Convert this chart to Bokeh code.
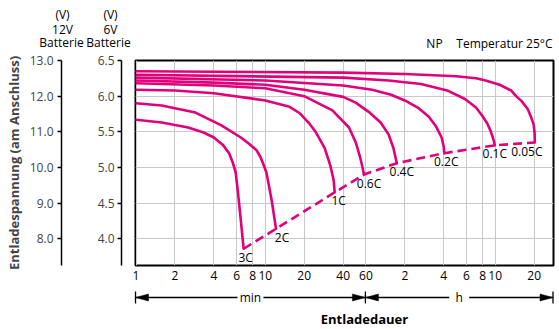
import math
from bokeh.plotting import figure
from bokeh.layouts import column
from bokeh.models import (Range1d, LinearAxis, FixedTicker, NumeralTickFormatter,
                          ColumnDataSource, Grid)
from bokeh.core.properties import value
from bokeh.embed import file_html
from bokeh.resources import INLINE

FONT = "Open Sans"
PINK = "#E2007A"
GRID = "#c8c8c8"

# ---- axes (time in minutes, voltage in 6V-battery volts) ----
X_TICKS = [1, 2, 4, 6, 8, 10, 20, 40, 60, 120, 240, 360, 480, 600, 1200]
X_LABELS = ["1", "2", "4", "6", "8", "10", "20", "40", "60", "2", "4", "6", "8", "10", "20"]
Y6_TICKS = [4.0, 4.5, 5.0, 5.5, 6.0, 6.5]
Y12_TICKS = [8.0, 9.0, 10.0, 11.0, 12.0, 13.0]
GRID_Y = [4.0, 4.5, 5.0, 5.5, 6.0]

# ---- discharge curves (minutes, volts of 6V battery) ----
t_3C = [1, 1.58, 2.53, 3.33, 4, 4.73, 5.25, 5.6, 5.9, 6.12, 6.35, 6.8]
v_3C = [5.67, 5.63, 5.56, 5.49, 5.42, 5.31, 5.20, 5.07, 4.93, 4.68, 4.40, 3.86]

t_2C = [1, 1.58, 2.88, 4.58, 6.47, 7.4, 8.56, 9.15, 9.6, 10.2, 10.6, 11.2, 12.1]
v_2C = [5.90, 5.87, 5.77, 5.59, 5.42, 5.34, 5.24, 5.15, 5.06, 4.93, 4.77, 4.54, 4.14]

t_1C = [1, 2, 4, 10, 15.4, 18.5, 21.6, 24.7, 28.8, 31.8, 33.8, 34.4]
v_1C = [6.09, 6.08, 6.04, 5.94, 5.85, 5.76, 5.63, 5.49, 5.27, 5.03, 4.82, 4.65]

t_06C = [1, 4, 10, 20, 33, 44.4, 50.1, 54, 56.3, 58]
v_06C = [6.18, 6.15, 6.11, 6.00, 5.80, 5.56, 5.35, 5.15, 5.01, 4.90]

t_04C = [1, 4, 10, 20, 40, 50, 63, 78, 90, 98, 104]
v_04C = [6.22, 6.19, 6.16, 6.09, 5.99, 5.91, 5.78, 5.63, 5.46, 5.27, 5.06]

t_02C = [1, 10, 40, 67, 94, 120, 151, 184, 210, 231, 240, 242]
v_02C = [6.26, 6.22, 6.15, 6.09, 6.02, 5.94, 5.84, 5.71, 5.57, 5.42, 5.29, 5.20]

t_01C = [1, 40, 90, 160, 255, 350, 426, 470, 520, 556, 575, 588, 595]
v_01C = [6.30, 6.26, 6.22, 6.17, 6.08, 5.96, 5.84, 5.74, 5.62, 5.50, 5.42, 5.36, 5.31]

t_005C = [1, 40, 120, 300, 426, 505, 650, 795, 870, 960, 1070, 1140, 1190, 1210, 1215]
v_005C = [6.35, 6.33, 6.31, 6.28, 6.25, 6.22, 6.16, 6.08, 6.00, 5.93, 5.82, 5.70, 5.60,
          5.48, 5.35]

RATES = ["3C", "2C", "1C", "0.6C", "0.4C", "0.2C", "0.1C", "0.05C"]
CURVES_T = [t_3C, t_2C, t_1C, t_06C, t_04C, t_02C, t_01C, t_005C]
CURVES_V = [v_3C, v_2C, v_1C, v_06C, v_04C, v_02C, v_01C, v_005C]
LABEL_DX = [2, 6, 4, 5, 5, 2, 0, -8]          # horizontal nudge of each rate label (px)

# header texts
HEAD_TEXT = ["(V)", "12V", "Batterie", "(V)", "6V", "Batterie", "NP"]
HEAD_X = [62, 62, 61, 110, 110, 108, 434]
HEAD_Y = [14, 29, 42, 14, 29, 42, 43]

W = 559
FRAME_L, FRAME_R = 135, 553
PPD = 129.3                                   # pixels per decade of the time axis
X_START = 10 ** (-0.5 / PPD)
X_END = 10 ** ((FRAME_R - FRAME_L - 0.5) / PPD)
Y_START, Y_END = 3.625, 6.5


def no_align(fig):
    if "frame_align" in fig.properties():
        fig.frame_align = False


# ---------------- top header strip ----------------
TOP_H = 52
ph = figure(width=W, height=TOP_H, x_range=Range1d(0, W), y_range=Range1d(TOP_H, 0),
            x_axis_location=None, y_axis_location=None, min_border=0,
            output_backend="svg", toolbar_location=None)
no_align(ph)
ph.grid.visible = False
ph.outline_line_color = None
ph.text(x=HEAD_X, y=HEAD_Y, text=HEAD_TEXT, text_align="center", text_baseline="middle",
        text_font=value(FONT), text_font_size="12px", text_color="black")
ph.text(x=[552], y=[43], text=["Temperatur 25°C"], text_align="right", text_baseline="middle",
        text_font=value(FONT), text_font_size="12px", text_color="black")

# ---------------- main chart ----------------
MAIN_TOP = 60 - TOP_H
p = figure(width=W, height=MAIN_TOP + 205 + 22, x_axis_type="log",
           x_range=Range1d(X_START, X_END), y_range=Range1d(Y_START, Y_END),
           y_axis_location=None, output_backend="svg", toolbar_location=None,
           min_border_left=FRAME_L, min_border_right=W - FRAME_R, min_border_top=MAIN_TOP,
           min_border_bottom=22)
p.extra_y_ranges = {"v12": Range1d(2 * Y_START, 2 * Y_END)}
p.outline_line_color = "black"
p.outline_line_width = 2

xa = p.xaxis[0]
xa.ticker = FixedTicker(ticks=X_TICKS, minor_ticks=[])
xa.major_label_overrides = {t: l for t, l in zip(X_TICKS, X_LABELS)}
xa.axis_line_color = None
xa.major_tick_line_color = None
xa.minor_tick_line_color = None
xa.major_tick_out = 0
xa.major_tick_in = 0
xa.major_label_standoff = 5
xa.major_label_text_font = FONT
xa.major_label_text_font_size = "12px"
xa.major_label_text_color = "black"

p.xgrid.ticker = FixedTicker(ticks=X_TICKS, minor_ticks=[])
p.xgrid.grid_line_color = GRID
if len(p.ygrid) == 0:
    p.add_layout(Grid(dimension=1, ticker=FixedTicker(ticks=GRID_Y)), "center")
p.ygrid.ticker = FixedTicker(ticks=GRID_Y)
p.ygrid.grid_line_color = GRID


def spacer(w):
    # an empty axis that only reserves horizontal room
    return LinearAxis(ticker=FixedTicker(ticks=[5.0], minor_ticks=[]), major_tick_out=w,
                      major_tick_in=0, axis_line_color=None, major_tick_line_color=None,
                      minor_tick_line_color=None, minor_tick_out=0,
                      major_label_text_color=None, major_label_text_font_size="1px",
                      major_label_standoff=0)


ax6 = LinearAxis(ticker=FixedTicker(ticks=Y6_TICKS, minor_ticks=[]),
                 formatter=NumeralTickFormatter(format="0.0"),
                 major_tick_out=4, major_tick_in=0, minor_tick_line_color=None,
                 axis_line_width=1.5, major_tick_line_width=1.5, major_label_standoff=3,
                 major_label_text_font=FONT, major_label_text_font_size="12px")
ax12 = LinearAxis(y_range_name="v12", ticker=FixedTicker(ticks=Y12_TICKS, minor_ticks=[]),
                  formatter=NumeralTickFormatter(format="0.0"),
                  major_tick_out=4, major_tick_in=0, minor_tick_line_color=None,
                  axis_line_width=1.5, major_tick_line_width=1.5, major_label_standoff=4,
                  major_label_text_font=FONT, major_label_text_font_size="12px",
                  axis_label="Entladespannung (am Anschluss)", axis_label_standoff=4,
                  axis_label_text_font=FONT, axis_label_text_font_size="13px",
                  axis_label_text_font_style="bold")
p.add_layout(spacer(14), "left")
p.add_layout(ax6, "left")
p.add_layout(spacer(33), "left")
p.add_layout(ax12, "left")

for t, v in zip(CURVES_T, CURVES_V):
    p.line(t, v, line_color=PINK, line_width=2.6, line_join="round", line_cap="round")

end_t = [c[-1] for c in CURVES_T]
end_v = [c[-1] for c in CURVES_V]
p.line(end_t, end_v, line_color=PINK, line_width=2.6, line_dash="9 5")

src = ColumnDataSource(dict(t=end_t, v=end_v, txt=RATES, dx=LABEL_DX))
p.text(x="t", y="v", text="txt", source=src, text_align="center", text_baseline="top",
       x_offset="dx", y_offset=0, text_font=value(FONT), text_font_size="12px",
       text_color="black")

# ---------------- bottom strip: time arrows and axis title ----------------
BOT_H = 329 - TOP_H - (MAIN_TOP + 205 + 22)
AY = 10          # arrow row, px from top of strip
xb0 = 10 ** (-FRAME_L / PPD)
xb1 = 10 ** ((W - FRAME_L) / PPD)
pb = figure(width=W, height=BOT_H, x_axis_type="log", x_range=Range1d(xb0, xb1),
            y_range=Range1d(BOT_H, 0), x_axis_location=None, y_axis_location=None,
            min_border=0, output_backend="svg", toolbar_location=None)
no_align(pb)
pb.grid.visible = False
pb.outline_line_color = None

SPANS = [(1, 60, "min"), (60, X_END, "h")]
GAPS = [13, 10]


def px(n):       # multiplicative step in data space for n pixels
    return 10 ** (n / PPD)


seg_x0, seg_x1 = [], []
tri_xs, tri_ys = [], []
HL, HH = 13, 3.5
for (a, b, txt), g in zip(SPANS, GAPS):
    mid = math.sqrt(a * b)
    seg_x0 += [a, mid * px(g)]
    seg_x1 += [mid / px(g), b]
    tri_xs += [[a, a * px(HL), a * px(HL)], [b, b / px(HL), b / px(HL)]]
    tri_ys += [[AY, AY - HH, AY + HH], [AY, AY - HH, AY + HH]]
pb.segment(x0=seg_x0, y0=AY, x1=seg_x1, y1=AY, line_color="black", line_width=1.3)
pb.patches(tri_xs, tri_ys, fill_color="black", line_color="black", line_width=0.5)
bars = [1, 60, X_END]
pb.segment(x0=bars, y0=AY - 6, x1=bars, y1=AY + 6, line_color="black", line_width=1.3)
pb.text(x=[math.sqrt(a * b) for a, b, _ in SPANS], y=AY, text=[s for _, _, s in SPANS],
        text_align="center", text_baseline="middle", text_font=value(FONT),
        text_font_size="12px", text_color="black")
pb.text(x=[10 ** ((364 - FRAME_L) / PPD)], y=[31], text=["Entladedauer"], text_align="center",
        text_baseline="middle", text_font=value(FONT), text_font_size="13px",
        text_font_style="bold", text_color="black")

layout = column(ph, p, pb, spacing=0)
open("out.html", "w").write(file_html(layout, INLINE))
